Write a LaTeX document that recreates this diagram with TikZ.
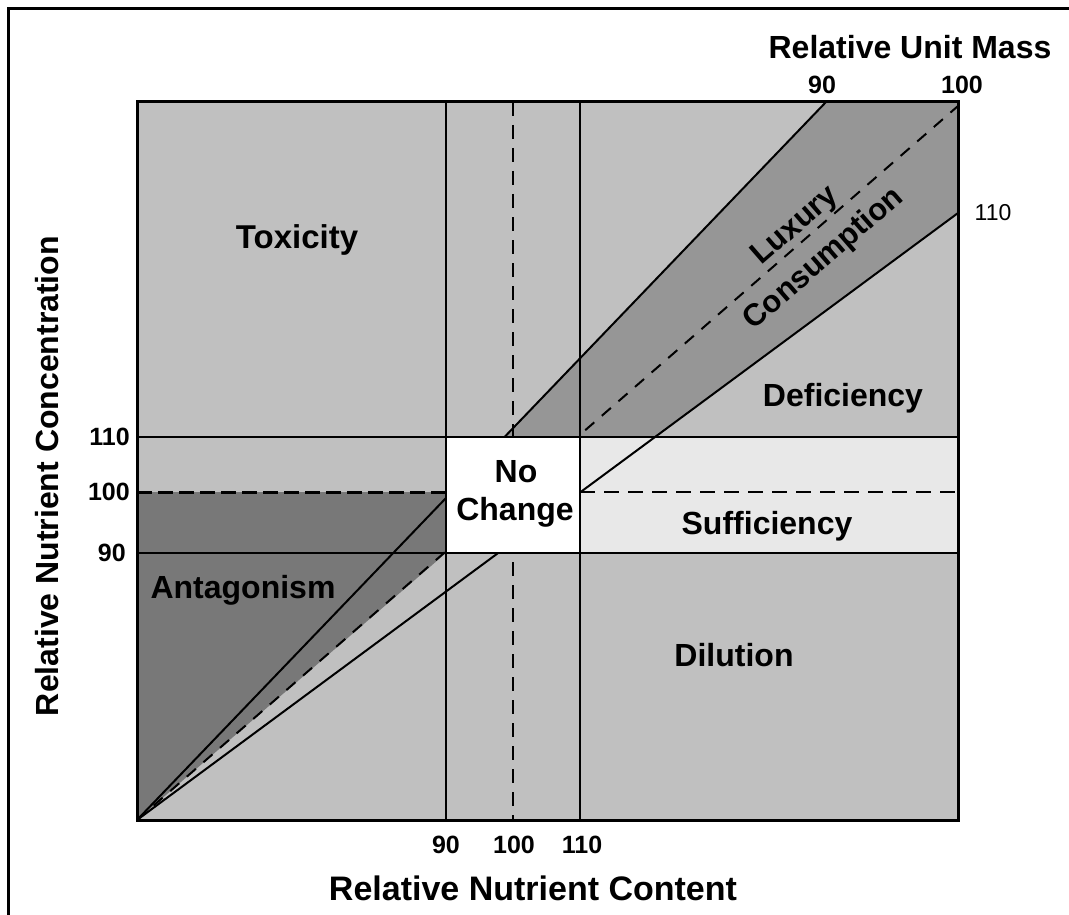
\documentclass[tikz,border=0pt]{standalone}
\usepackage{fontspec}
\setmainfont{Liberation Sans}
\definecolor{bgray}{RGB}{192,192,192}
\definecolor{lgray}{RGB}{232,232,232}
\definecolor{mgray}{RGB}{150,150,150}
\definecolor{dgray}{RGB}{120,120,120}
\begin{document}
\begin{tikzpicture}[x=1pt,y=-1pt,
  region/.style={font=\fontsize{32}{38}\selectfont\bfseries, inner sep=0pt},
  axtitle/.style={font=\fontsize{32}{36}\selectfont\bfseries, inner sep=0pt},
  tick/.style={font=\fontsize{25}{28}\selectfont\bfseries, inner sep=0pt},
  tickr/.style={font=\fontsize{23}{26}\selectfont, inner sep=0pt},
  grid/.style={line width=1.6pt},
  diag/.style={line width=2pt},
  dashv/.style={line width=2.2pt, dash pattern=on 14pt off 9pt},
  dashd/.style={line width=2pt, dash pattern=on 12pt off 10pt}]
\useasboundingbox (0,0) rectangle (1069,915);
% key coordinates
\coordinate (O) at (137,820);
\coordinate (TL) at (137,102);
\coordinate (TR) at (958,102);
\coordinate (BR) at (958,820);
\coordinate (M90) at (826,102);
\coordinate (M100) at (958,106);
\coordinate (M110) at (958,213);
% fills
\fill[bgray] (TL) rectangle (BR);
\fill[dgray] (O) -- (137,492) -- (446,492) -- (446,553) -- cycle;
\fill[mgray] (504.5,437) -- (M90) -- (TR) -- (M110) -- (655,437) -- cycle;
\fill[lgray] (580,437) rectangle (958,553);
% grid lines
\draw[grid] (446,102) -- (446,820);
\draw[line width=2.2pt] (580,102) -- (580,820);
\draw[dashv] (513,102) -- (513,820);
\draw[grid] (137,437) -- (958,437);
\draw[grid] (137,553) -- (958,553);
\draw[line width=3pt, dash pattern=on 15pt off 6pt] (137,492) -- (446,492);
\draw[dashv, dash pattern=on 15pt off 9pt] (580,492) -- (958,492);
% diagonals
\draw[diag] (O) -- (M90);
\draw[dashd] (O) -- (M100);
\draw[diag] (O) -- (M110);
% no change box
\node[draw, line width=1.8pt, fill=white, minimum width=134pt, minimum height=116pt, inner sep=0pt] (nc) at (513,495) {};
\node[region] (no) at (516,472) {No};
\node[region] (chg) at (515,512) {Change};
% plot border
\draw[line width=3pt] (TL) rectangle (BR);
% region labels
\node[region, font=\fontsize{33}{38}\selectfont\bfseries] (tox) at (297,240) {Toxicity};
\node[region] (def) at (843,398) {Deficiency};
\node[region] (suf) at (767,526) {Sufficiency};
\node[region] (dil) at (734,655) {Dilution};
\node[region] (ant) at (243,590) {Antagonism};
\node[region, align=center, rotate=41, font=\fontsize{31}{44}\selectfont\bfseries] (lux) at (810,243) {Luxury\\Consumption};
% tick labels
\node[tick] (b90) at (446,845) {90};
\node[tick] (b100) at (514,845) {100};
\node[tick] (b110) at (582,845) {110};
\node[tick] (t90) at (822,85) {90};
\node[tick] (t100) at (962,85) {100};
\node[tickr] (r110) at (993,213) {110};
\node[tick, anchor=east] (l110) at (130,437) {110};
\node[tick, anchor=east] (l100) at (130,492) {100};
\node[tick, anchor=east] (l90) at (126,553) {90};
% axis titles
\node[axtitle, font=\fontsize{34}{38}\selectfont\bfseries] (xt) at (533,888) {Relative Nutrient Content};
\node[axtitle] (ut) at (910,47) {Relative Unit Mass};
\node[axtitle, rotate=90] (yt) at (47,476) {Relative Nutrient Concentration};
% outer frame
\draw[line width=3pt] (8,915) -- (8,9) -- (1069,9);
\end{tikzpicture}
\end{document}
